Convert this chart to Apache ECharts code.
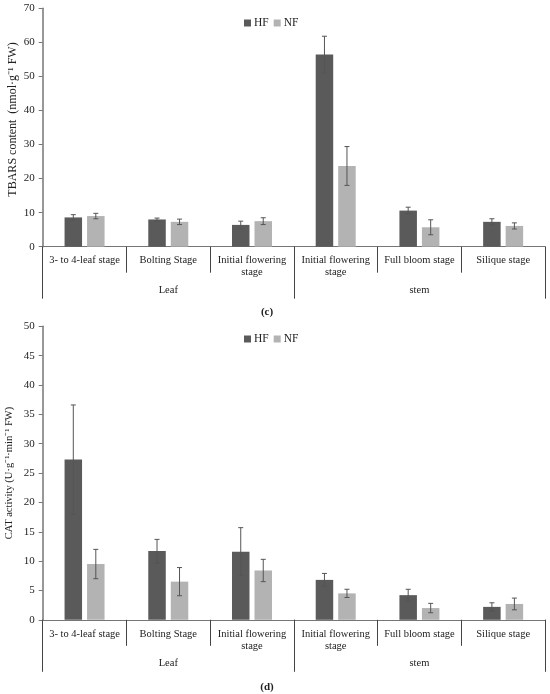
<!DOCTYPE html>
<html>
<head>
<meta charset="utf-8">
<script src="https://cdn.jsdelivr.net/npm/echarts@6/dist/echarts.min.js"></script>
<style>
html, body { margin: 0; padding: 0; background: #fff; }
#main { width: 550px; height: 694px; }
</style>
</head>
<body>
<div id="main"></div>
<script>
var stages = ['3- to 4-leaf stage', 'Bolting Stage', 'Initial flowering\nstage',
	'Initial flowering\nstage', 'Full bloom stage', 'Silique stage'];
var organs = ['Leaf', 'stem'];
var yTicksTop = [0, 70, 10];
var yTicksBottom = [0, 50, 5];

// (c) TBARS content
var tbarsHF = [8.6, 8.0, 6.4, 56.4, 10.6, 7.3];
var tbarsHFErr = [0.8, 0.4, 1.1, 5.4, 1.0, 0.9];
var tbarsNF = [9.0, 7.3, 7.5, 23.7, 5.7, 6.1];
var tbarsNFErr = [0.8, 0.8, 1.0, 5.7, 2.2, 0.9];

// (d) CAT activity
var catHF = [27.3, 11.7, 11.6, 6.8, 4.2, 2.2];
var catHFErr = [9.3, 2.0, 4.1, 1.1, 1.0, 0.7];
var catNF = [9.5, 6.5, 8.4, 4.5, 2.0, 2.7];
var catNFErr = [2.5, 2.4, 1.9, 0.7, 0.8, 1.0];

var FONT = 'Liberation Serif';
var HF_COLOR = '#5a5a5a';
var NF_COLOR = '#b3b3b3';
var AXIS_COLOR = '#767676';
var BAR_W = 17.5;
var BAR_GAP = 5;

var chart = echarts.init(document.getElementById('main'));

function errData(vals, errs) {
	var out = [];
	for (var i = 0; i < vals.length; i++) {
		out.push([i, vals[i], errs[i]]);
	}
	return out;
}

function errSeries(name, vals, errs, xIdx, yIdx, shift) {
	return {
		name: name,
		type: 'custom',
		xAxisIndex: xIdx,
		yAxisIndex: yIdx,
		z: 5,
		silent: true,
		data: errData(vals, errs),
		encode: { x: 0, y: 1 },
		renderItem: function(params, api) {
			var i = api.value(0), v = api.value(1), e = api.value(2);
			var top = api.coord([i, v + e]);
			var bot = api.coord([i, v - e]);
			var x = top[0] + shift;
			var style = { stroke: '#555', lineWidth: 1 };
			return {
				type: 'group',
				children: [
					{ type: 'line', shape: { x1: x, y1: top[1], x2: x, y2: bot[1] }, style: style },
					{ type: 'line', shape: { x1: x - 2.5, y1: top[1], x2: x + 2.5, y2: top[1] }, style: style },
					{ type: 'line', shape: { x1: x - 2.5, y1: bot[1], x2: x + 2.5, y2: bot[1] }, style: style }
				]
			};
		}
	};
}

function catAxis(gridIdx) {
	return {
		type: 'category',
		gridIndex: gridIdx,
		position: 'bottom',
		data: stages,
		axisLine: { lineStyle: { color: AXIS_COLOR, width: 1 } },
		axisTick: { show: true, length: 26, alignWithLabel: false, lineStyle: { color: '#444' } },
		axisLabel: { interval: 0, margin: 8, fontFamily: FONT, fontSize: 10.5, color: '#222', lineHeight: 12 }
	};
}

function groupAxis(gridIdx) {
	return {
		type: 'category',
		gridIndex: gridIdx,
		position: 'bottom',
		offset: 0,
		data: organs,
		axisLine: { show: false },
		axisTick: { show: true, length: 52, alignWithLabel: false, lineStyle: { color: '#444' } },
		axisLabel: { interval: 0, margin: 38, fontFamily: FONT, fontSize: 10.5, color: '#222' }
	};
}

function valAxis(gridIdx, ticks, name, gap, nameSize, namePad) {
	return {
		type: 'value',
		gridIndex: gridIdx,
		min: ticks[0],
		max: ticks[1],
		interval: ticks[2],
		name: name,
		nameLocation: 'middle',
		nameGap: gap,
		nameMoveOverlap: false,
		nameTextStyle: { fontFamily: FONT, fontSize: nameSize, color: '#222', padding: namePad },
		splitLine: { show: false },
		axisLine: { show: true, lineStyle: { color: AXIS_COLOR, width: 1.5 } },
		axisTick: { show: true, length: 4, lineStyle: { color: AXIS_COLOR } },
		axisLabel: { margin: 8, fontFamily: FONT, fontSize: 11, color: '#222' }
	};
}

function barSeries(name, data, xIdx, yIdx, color) {
	return {
		name: name,
		type: 'bar',
		xAxisIndex: xIdx,
		yAxisIndex: yIdx,
		data: data,
		barWidth: BAR_W,
		barGap: (BAR_GAP / BAR_W * 100) + '%',
		itemStyle: { color: color },
		emphasis: { disabled: true }
	};
}

var shift = (BAR_W + BAR_GAP) / 2;

var option = {
	animation: false,
	backgroundColor: '#fff',
	grid: [
		{ left: 42.7, right: 5, top: 8.3, height: 238.4, outerBoundsMode: 'none', containLabel: false },
		{ left: 42.7, right: 5, top: 326.3, height: 293.5, outerBoundsMode: 'none', containLabel: false }
	],
	legend: [
		{
			data: ['HF', 'NF'], left: 239, top: 12, icon: 'rect',
			itemWidth: 7, itemHeight: 7, itemGap: 5,
			textStyle: { fontFamily: FONT, fontSize: 11.5, color: '#222', padding: [0, 0, 0, -2] }
		},
		{
			data: ['HF', 'NF'], left: 239, top: 328, icon: 'rect',
			itemWidth: 7, itemHeight: 7, itemGap: 5,
			textStyle: { fontFamily: FONT, fontSize: 11.5, color: '#222', padding: [0, 0, 0, -2] }
		}
	],
	xAxis: [catAxis(0), groupAxis(0), catAxis(1), groupAxis(1)],
	yAxis: [
		valAxis(0, yTicksTop, 'TBARS content  (nmol\u00b7g\u207b\u00b9 FW)', 24, 12, [0, 0, 0, 16]),
		valAxis(1, yTicksBottom, 'CAT activity (U\u00b7g\u207b\u00b9\u00b7min\u207b\u00b9 FW)', 28, 10.5, [0, 0, 0, 0])
	],
	graphic: [
		{ type: 'text', x: 267, y: 312, style: { text: '(c)', fontFamily: FONT, fontSize: 11, fontWeight: 'bold', fill: '#222', textAlign: 'center', textVerticalAlign: 'middle' } },
		{ type: 'text', x: 267, y: 687, style: { text: '(d)', fontFamily: FONT, fontSize: 11, fontWeight: 'bold', fill: '#222', textAlign: 'center', textVerticalAlign: 'middle' } }
	],
	series: [
		barSeries('HF', tbarsHF, 0, 0, HF_COLOR),
		barSeries('NF', tbarsNF, 0, 0, NF_COLOR),
		errSeries('HF err', tbarsHF, tbarsHFErr, 0, 0, -shift),
		errSeries('NF err', tbarsNF, tbarsNFErr, 0, 0, shift),
		barSeries('HF', catHF, 2, 1, HF_COLOR),
		barSeries('NF', catNF, 2, 1, NF_COLOR),
		errSeries('HF err', catHF, catHFErr, 2, 1, -shift),
		errSeries('NF err', catNF, catNFErr, 2, 1, shift)
	]
};

chart.setOption(option);
</script>
</body>
</html>
